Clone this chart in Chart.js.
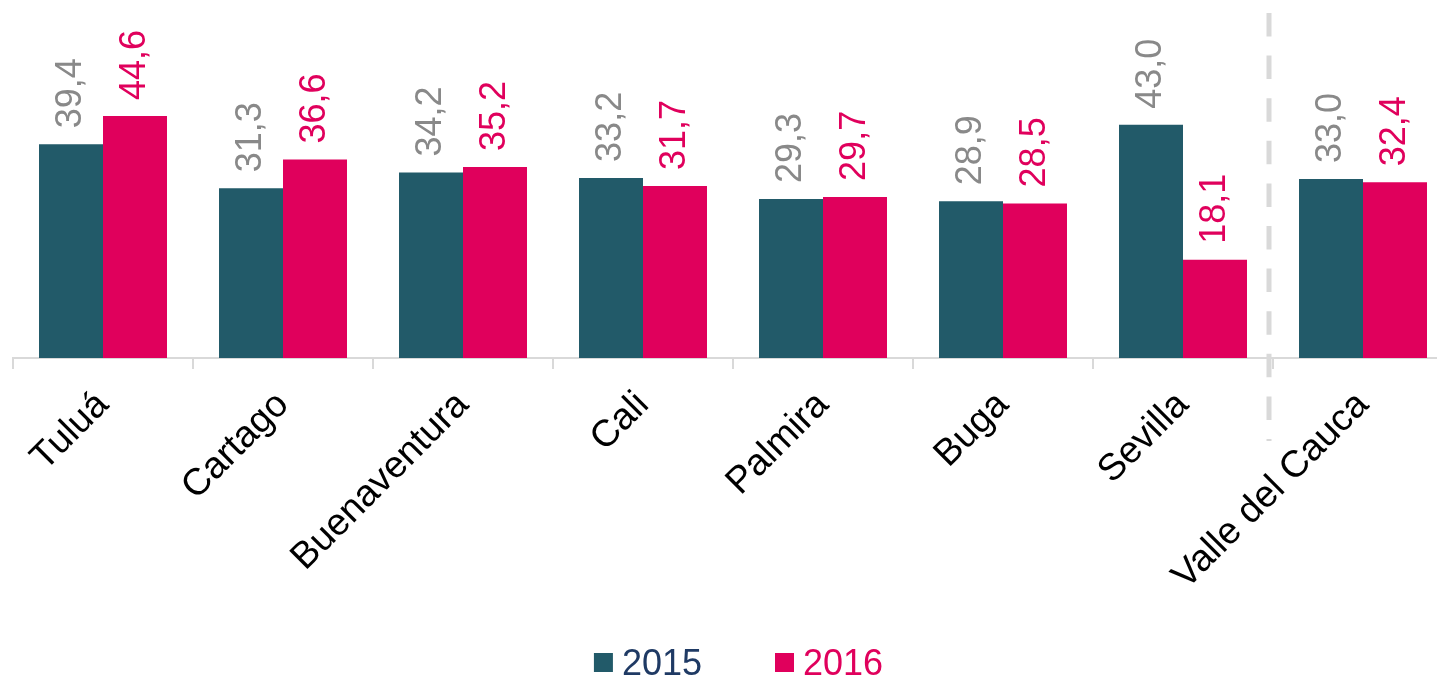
<!DOCTYPE html>
<html>
<head>
<meta charset="utf-8">
<script src="https://cdn.jsdelivr.net/npm/chart.js@4.4.1/dist/chart.umd.min.js"></script>
<style>
  html, body { margin: 0; padding: 0; background: #ffffff; overflow: hidden; }
  #wrap { position: absolute; left: 0; top: 0; width: 1460px; height: 677px; }
</style>
</head>
<body>
<div id="wrap"><canvas id="c" width="1460" height="677"></canvas></div>
<script>
const categories = ['Tuluá', 'Cartago', 'Buenaventura', 'Cali', 'Palmira', 'Buga', 'Sevilla', 'Valle del Cauca'];
const seriesNames = ['2015', '2016'];
const values2015 = [39.4, 31.3, 34.2, 33.2, 29.3, 28.9, 43.0, 33.0];
const values2016 = [44.6, 36.6, 35.2, 31.7, 29.7, 28.5, 18.1, 32.4];

const FONT = '"Liberation Sans", Arial, sans-serif';
const barColors = ['#225A69', '#E0005C'];
const valueLabelColors = ['#898989', '#E0005C'];
const legendTextColors = ['#1F3A64', '#E0005C'];

const valueLabels = {
  id: 'valueLabels',
  afterDatasetsDraw(chart) {
    const ctx = chart.ctx;
    ctx.save();
    ctx.font = '36px ' + FONT;
    chart.data.datasets.forEach((ds, di) => {
      const meta = chart.getDatasetMeta(di);
      meta.data.forEach((bar, i) => {
        const v = ds.data[i];
        const txt = v.toFixed(1).replace('.', ',');
        ctx.save();
        ctx.translate(bar.x, bar.y - 16);
        ctx.rotate(-Math.PI / 2);
        ctx.textAlign = 'left';
        ctx.textBaseline = 'middle';
        ctx.fillStyle = valueLabelColors[di];
        ctx.fillText(txt, 0, 0);
        ctx.restore();
      });
    });
    ctx.restore();
  }
};

const separator = {
  id: 'separator',
  afterDraw(chart) {
    const xs = chart.scales.x;
    const n = chart.data.labels.length;
    const xb = (xs.getPixelForValue(n - 2) + xs.getPixelForValue(n - 1)) / 2 - 4;
    const ctx = chart.ctx;
    ctx.save();
    ctx.strokeStyle = '#D9D9D9';
    ctx.lineWidth = 5;
    ctx.setLineDash([23.5, 19.1]);
    ctx.beginPath();
    ctx.moveTo(xb, 13);
    ctx.lineTo(xb, 441);
    ctx.stroke();
    ctx.restore();
  }
};

const customLegend = {
  id: 'customLegend',
  afterDraw(chart) {
    const ctx = chart.ctx;
    ctx.save();
    ctx.font = '36px ' + FONT;
    ctx.textBaseline = 'alphabetic';
    ctx.textAlign = 'left';
    const box = 19, gapBoxText = 9, gapItems = 73;
    const items = chart.data.datasets.map((ds, i) => ({
      text: ds.label, color: ds.backgroundColor, tcolor: legendTextColors[i],
      w: box + gapBoxText + ctx.measureText(ds.label).width
    }));
    const total = items.reduce((s, it) => s + it.w, 0) + gapItems * (items.length - 1);
    let x = 738.5 - total / 2;
    items.forEach(it => {
      ctx.fillStyle = it.color;
      ctx.fillRect(x, 653, box, box);
      ctx.fillStyle = it.tcolor;
      ctx.fillText(it.text, x + box + gapBoxText, 675);
      x += it.w + gapItems;
    });
    ctx.restore();
  }
};

new Chart(document.getElementById('c'), {
  type: 'bar',
  data: {
    labels: categories,
    datasets: [
      { label: seriesNames[0], data: values2015, backgroundColor: barColors[0], borderWidth: 0 },
      { label: seriesNames[1], data: values2016, backgroundColor: barColors[1], borderWidth: 0 }
    ]
  },
  options: {
    responsive: false,
    devicePixelRatio: 1,
    animation: false,
    layout: { padding: { left: 13, right: 7, top: 0, bottom: 0 } },
    plugins: { legend: { display: false }, tooltip: { enabled: false } },
    datasets: { bar: { categoryPercentage: 128 / 180, barPercentage: 1.0 } },
    scales: {
      x: {
        afterFit(scale) { scale.height = 319; },
        grid: { display: true, offset: true, drawOnChartArea: false, drawTicks: true, tickLength: 11, color: '#D9D9D9', lineWidth: 2 },
        border: { display: true, color: '#D9D9D9', width: 2 },
        ticks: { color: '#000000', font: { family: FONT, size: 37.5 }, minRotation: 45, maxRotation: 45, autoSkip: false, padding: 14 }
      },
      y: {
        display: false,
        min: 0,
        max: 66
      }
    }
  },
  plugins: [valueLabels, separator, customLegend]
});
</script>
</body>
</html>
